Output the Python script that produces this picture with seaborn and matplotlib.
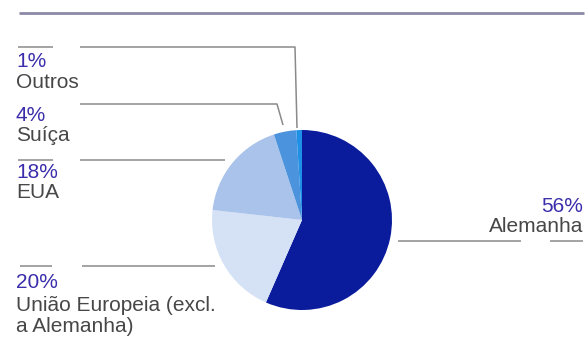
import matplotlib
matplotlib.use("Agg")
import matplotlib.pyplot as plt
import seaborn as sns

# ---- data ----
categories = ["Alemanha", "União Europeia (excl.\na Alemanha)", "EUA", "Suíça", "Outros"]
shares = [56, 20, 18, 4, 1]
pct_labels = ["56%", "20%", "18%", "4%", "1%"]
slice_colors = ["#0a1c9c", "#d5e1f5", "#a9c3ea", "#4b93dc", "#1e90e6"]

sns.set_theme(style="white")
plt.rcParams["font.family"] = ["Liberation Sans", "DejaVu Sans"]

W, H = 587, 338
fig = plt.figure(figsize=(W / 100, H / 100), dpi=100)
ax = fig.add_axes([0, 0, 1, 1])

def Y(y):
    return H - y

cx, cy, r = 302, 220, 90
ax.pie(shares, colors=slice_colors, startangle=90, counterclock=False,
       center=(cx, Y(cy)), radius=r, frame=True,
       wedgeprops=dict(linewidth=0))

ax.set_xlim(0, W)
ax.set_ylim(0, H)
ax.set_aspect("auto")
ax.axis("off")

rule_c = "#8b89a7"
lead_c = "#8a8a8a"
# top rule
ax.plot([19, 584], [Y(13), Y(13)], color=rule_c, lw=2.0, solid_capstyle="butt")

def seg(xs, ys, lw=1.1):
    ax.plot(xs, [Y(v) for v in ys], color=lead_c, lw=lw, solid_capstyle="butt")

# Outros leader
seg([18, 53], [47, 47])
seg([80, 295, 297], [47, 47, 128])
# Suíça leader
seg([80, 277, 283], [104, 104, 125])
# EUA leader
seg([18, 53], [160, 160])
seg([80, 225], [160, 160])
# UE leader
seg([20, 52], [266, 266])
seg([82, 215], [266, 266])
# Alemanha leader
seg([398, 521], [241, 241])
seg([550, 583], [241, 241])

pct_c = "#3a2eab"
lab_c = "#474747"
fs = 15

# labels (left side)
left_x = 16
ax.text(left_x, Y(67), pct_labels[4], color=pct_c, fontsize=fs, va="baseline", ha="left")
ax.text(left_x, Y(88), categories[4], color=lab_c, fontsize=fs, va="baseline", ha="left")
ax.text(left_x, Y(121), pct_labels[3], color=pct_c, fontsize=fs, va="baseline", ha="left")
ax.text(left_x, Y(141), categories[3], color=lab_c, fontsize=fs, va="baseline", ha="left")
ax.text(left_x, Y(178), pct_labels[2], color=pct_c, fontsize=fs, va="baseline", ha="left")
ax.text(left_x, Y(198), categories[2], color=lab_c, fontsize=fs, va="baseline", ha="left")
ax.text(left_x, Y(288), pct_labels[1], color=pct_c, fontsize=fs, va="baseline", ha="left")
ue1, ue2 = categories[1].split("\n")
ax.text(left_x, Y(311), ue1, color=lab_c, fontsize=fs, va="baseline", ha="left")
ax.text(left_x, Y(332), ue2, color=lab_c, fontsize=fs, va="baseline", ha="left")
# right side
ax.text(583, Y(212), pct_labels[0], color=pct_c, fontsize=fs, va="baseline", ha="right")
ax.text(583, Y(232), categories[0], color=lab_c, fontsize=fs, va="baseline", ha="right")

fig.savefig("out.png", dpi=100, facecolor="white")
